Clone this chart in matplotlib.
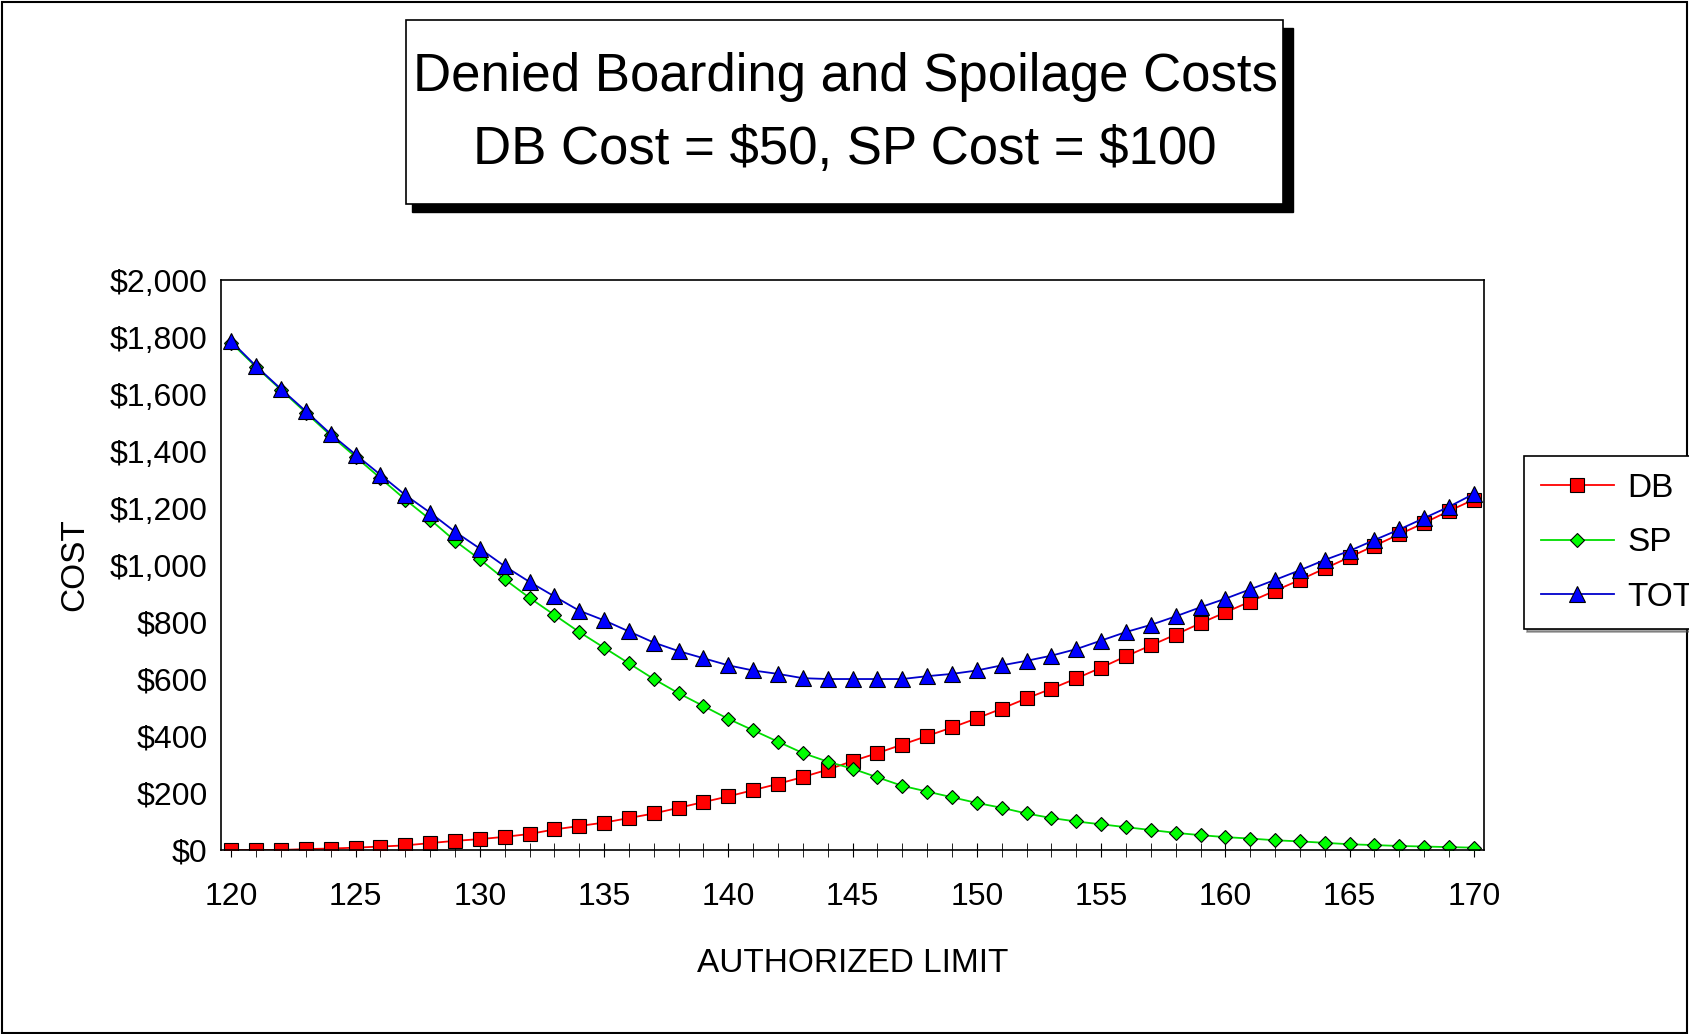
import matplotlib
matplotlib.use("Agg")
import matplotlib.pyplot as plt
from matplotlib.patches import Rectangle
from matplotlib.ticker import FuncFormatter, MultipleLocator

plt.rcParams["font.family"] = ["Liberation Sans", "DejaVu Sans"]

limits = list(range(120, 171))
db = [0, 0, 0, 3, 5, 8, 12, 16, 24, 32, 38, 46, 56, 72, 84, 96, 112, 128, 148, 168,
      188, 210, 232, 256, 282, 312, 340, 370, 400, 430, 462, 496, 532, 566, 602, 640,
      680, 718, 756, 796, 834, 872, 910, 948, 988, 1028, 1068, 1108, 1148, 1190, 1230]
sp = [1780, 1695, 1615, 1535, 1455, 1380, 1305, 1230, 1160, 1085, 1020, 950, 885, 825,
      765, 710, 655, 600, 550, 505, 460, 420, 380, 340, 310, 285, 255, 225, 205, 185,
      165, 148, 128, 112, 100, 90, 80, 70, 60, 52, 45, 40, 34, 30, 25, 20, 17, 14, 12, 10, 8]
tot = [1785, 1698, 1618, 1540, 1460, 1388, 1317, 1246, 1184, 1117, 1058, 996, 941, 890,
       840, 806, 767, 728, 698, 673, 648, 630, 618, 603, 600, 600, 600, 600, 610, 618,
       630, 648, 664, 682, 705, 735, 765, 790, 820, 852, 882, 915, 948, 982, 1018, 1050,
       1088, 1125, 1165, 1205, 1250]

fig = plt.figure(figsize=(16.9, 10.34), dpi=100)
fig.patches.append(Rectangle((0.001, 0.001), 0.997, 0.997, transform=fig.transFigure,
                             fill=False, ec="black", lw=1.5))
ax = fig.add_axes([0.131, 0.178, 0.747, 0.551])

ax.plot(limits, db, color="red", lw=1.3, marker="s", ms=10, mfc="red", mec="black", mew=0.8, label="DB")
ax.plot(limits, sp, color="#00dd00", lw=1.3, marker="D", ms=7, mfc="#00ff00", mec="black", mew=0.8, label="SP")
ax.plot(limits, tot, color="#0000cc", lw=1.3, marker="^", ms=11, mfc="#0000ff", mec="black", mew=0.8, label="TOT")

ax.set_xlim(119.6, 170.4)
ax.set_ylim(0, 2000)
ax.xaxis.set_major_locator(MultipleLocator(5))
ax.xaxis.set_minor_locator(MultipleLocator(1))
ax.yaxis.set_major_locator(MultipleLocator(200))
ax.yaxis.set_major_formatter(FuncFormatter(lambda v, p: f"\\${v:,.0f}"))
ax.tick_params(axis="x", which="both", direction="inout", length=10, labelsize=23, pad=18)
ax.tick_params(axis="y", length=0, labelsize=23, pad=10)
for s in ax.spines.values():
    s.set_linewidth(1.2)
ax.set_xlabel("AUTHORIZED LIMIT", fontsize=24, labelpad=26)
ax.set_ylabel("COST", fontsize=24, labelpad=14)

# title box with shadow
fig.patches.append(Rectangle((0.244, 0.795), 0.521, 0.178, transform=fig.transFigure,
                             fc="black", ec="black"))
fig.patches.append(Rectangle((0.240, 0.803), 0.519, 0.178, transform=fig.transFigure,
                             fc="white", ec="black", lw=1.2))
fig.text(0.5, 0.926, "Denied Boarding and Spoilage Costs", ha="center", va="center", fontsize=38)
fig.text(0.5, 0.855, "DB Cost = \\$50, SP Cost = \\$100", ha="center", va="center", fontsize=38)

leg = fig.legend(loc="center left", bbox_to_anchor=(0.892, 0.475), fontsize=24, frameon=True,
                 fancybox=False, shadow=True, edgecolor="black", handlelength=2.2,
                 handletextpad=0.4, borderpad=0.5, labelspacing=0.7)
leg.get_frame().set_linewidth(1.2)

fig.savefig("out.png", dpi=100, facecolor="white")
